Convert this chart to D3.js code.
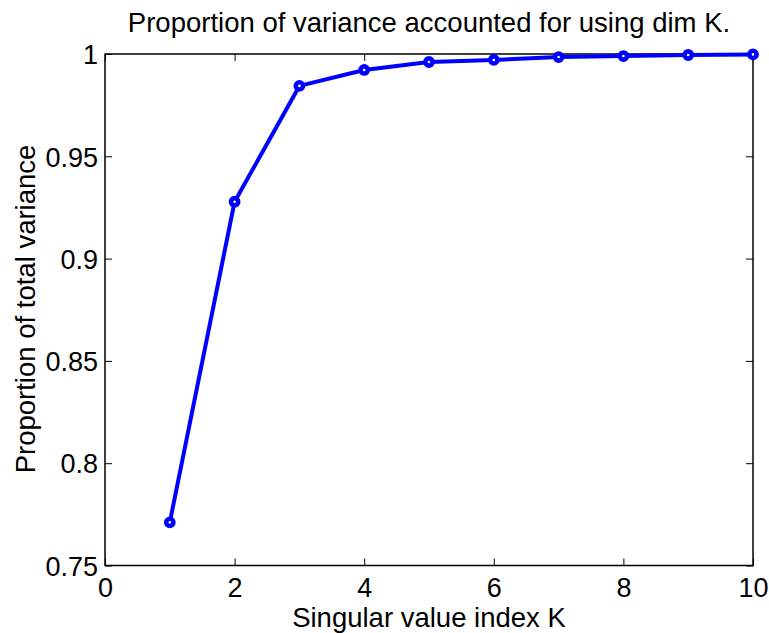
<!DOCTYPE html>
<html><head><meta charset="utf-8">
<script src="https://cdn.jsdelivr.net/npm/d3@7"></script>
<style>body{margin:0;background:#fff}svg{display:block}text{font-family:"Liberation Sans",Arial,sans-serif;fill:#000}</style>
</head><body><svg id="c" width="769" height="633"></svg>
<script>
const kValues = [1,2,3,4,5,6,7,8,9,10];
const proportion = [0.7711,0.9278,0.9844,0.9922,0.9961,0.9971,0.9985,0.9990,0.9995,0.9998];
const xTicks = [0,2,4,6,8,10];
const yTicks = [0.75,0.8,0.85,0.9,0.95,1];
const yTickLabels = ["0.75","0.8","0.85","0.9","0.95","1"];
const title = "Proportion of variance accounted for using dim K.";
const xLabel = "Singular value index K";
const yLabel = "Proportion of total variance";

const L=105,R=753,T=54,B=565.5;
const svg=d3.select("#c");
const x=d3.scaleLinear().domain([0,10]).range([L,R]);
const y=d3.scaleLinear().domain([0.75,1]).range([B,T]);

svg.append("rect").attr("x",L).attr("y",T).attr("width",R-L).attr("height",B-T).attr("fill","#fff");

const tl=7;
const gx=svg.append("g").attr("transform",`translate(0,${B})`).call(d3.axisBottom(x).tickValues(xTicks).tickSizeInner(-tl).tickSizeOuter(0).tickPadding(14).tickFormat(d3.format("d")));
const gxt=svg.append("g").attr("transform",`translate(0,${T})`).call(d3.axisTop(x).tickValues(xTicks).tickSizeInner(-tl).tickSizeOuter(0).tickFormat(""));
const gy=svg.append("g").attr("transform",`translate(${L},0)`).call(d3.axisLeft(y).tickValues(yTicks).tickSizeInner(-tl).tickSizeOuter(0).tickPadding(7).tickFormat((d,i)=>yTickLabels[i]));
const gyr=svg.append("g").attr("transform",`translate(${R},0)`).call(d3.axisRight(y).tickValues(yTicks).tickSizeInner(-tl).tickSizeOuter(0).tickFormat(""));
[gx,gxt,gy,gyr].forEach(g=>{g.select(".domain").remove();g.attr("font-size",null).attr("font-family",null);g.selectAll("line").attr("stroke","#000").attr("stroke-width",1);g.selectAll("text").style("font-size","27px").attr("fill","#000");});
gx.selectAll("text").attr("dy",null).attr("y",31.5);
gy.selectAll("text").attr("dy","0.36em");

svg.append("rect").attr("x",L).attr("y",T).attr("width",R-L).attr("height",B-T).attr("fill","none").attr("stroke","#000").attr("stroke-width",1.5);

const pts=kValues.map((k,i)=>[k,proportion[i]]);
svg.append("path").datum(pts).attr("fill","none").attr("stroke","#0000ff").attr("stroke-width",4).attr("stroke-linejoin","round")
  .attr("d",d3.line().x(d=>x(d[0])).y(d=>y(d[1])));
svg.selectAll("circle.m").data(pts).enter().append("circle").attr("class","m")
  .attr("cx",d=>x(d[0])).attr("cy",d=>y(d[1])).attr("r",3.6).attr("fill","#fff").attr("stroke","#0000ff").attr("stroke-width",4.6);

svg.append("text").attr("x",(L+R)/2).attr("y",32).attr("text-anchor","middle").style("font-size","27.5px").text(title);
svg.append("text").attr("x",(L+R)/2).attr("y",627).attr("text-anchor","middle").style("font-size","27.5px").text(xLabel);
svg.append("text").attr("transform",`translate(35,309) rotate(-90)`).attr("text-anchor","middle").style("font-size","27.5px").text(yLabel);
</script></body></html>
